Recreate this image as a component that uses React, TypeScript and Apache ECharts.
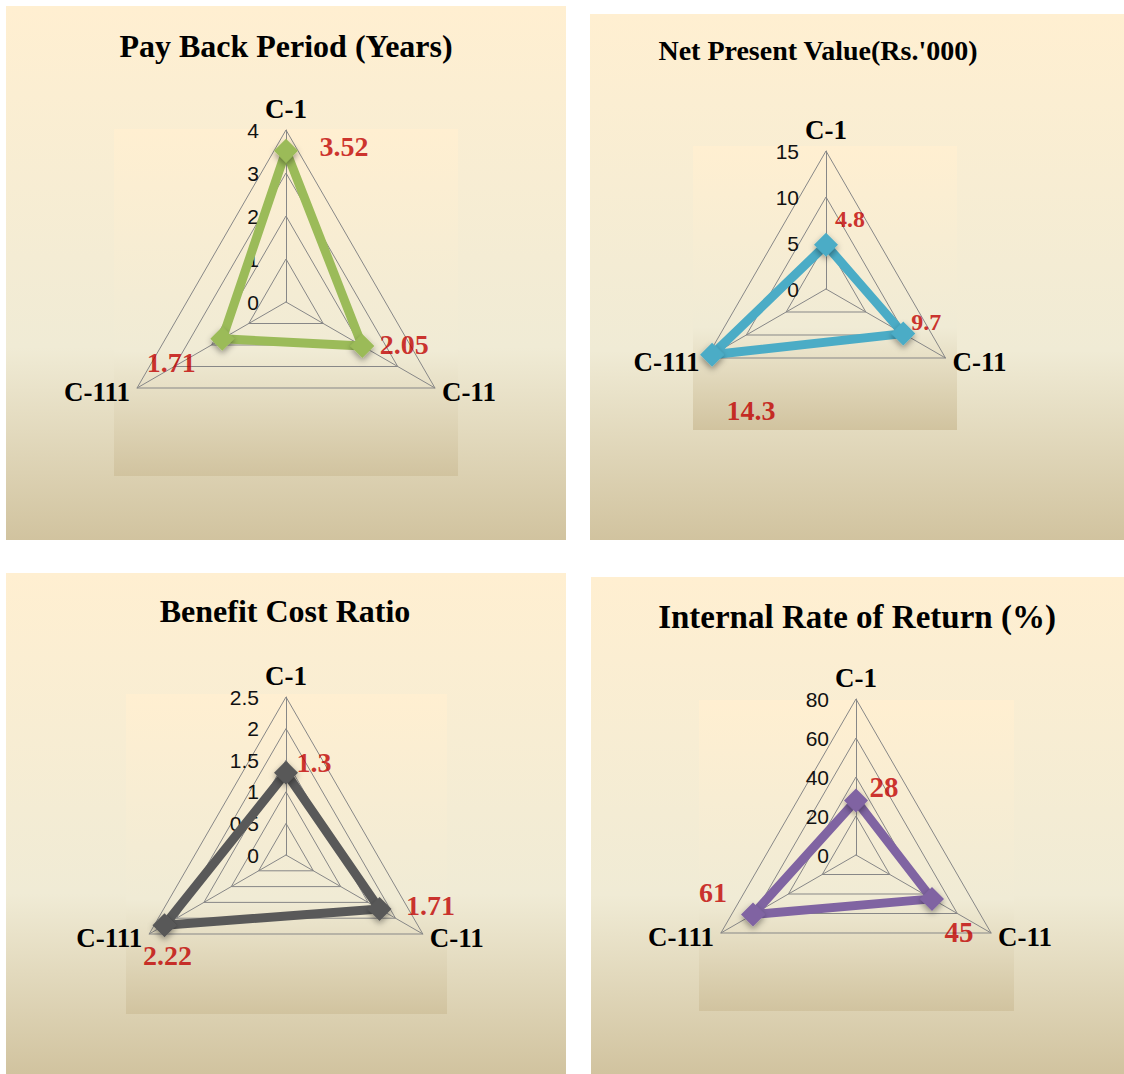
import React, { useEffect, useRef } from "react";
import * as echarts from "echarts";

// Spoke names in clockwise order starting from the top
const axisNames = ["C-1", "C-11", "C-111"];

// Values per spoke (C-1, C-11, C-111)
const paybackYears = [3.52, 2.05, 1.71];
const npvThousands = [4.8, 9.7, 14.3];
const benefitCostRatio = [1.3, 1.71, 2.22];
const irrPercent = [28, 45, 61];

const chartTitles = [
  "Pay Back Period (Years)",
  "Net Present Value(Rs.'000)",
  "Benefit Cost Ratio",
  "Internal Rate of Return (%)",
];
const axisMax = [4, 15, 2.5, 80];
const ringCounts = [4, 3, 5, 4];
const seriesValues = [paybackYears, npvThousands, benefitCostRatio, irrPercent];

type Panel = {
  outer: [number, number, number, number];
  inner: [number, number, number, number];
  title: [number, number, number];
  center: [number, number];
  radius: number;
  color: string;
  labelOffsets: [number, number][];
  labelSizes: number[];
};

// Layout of the four chart panels
const panels: Panel[] = [
  {
    outer: [6, 6, 560, 534],
    inner: [114, 129, 344, 347],
    title: [286, 46, 32],
    center: [286, 302],
    radius: 172,
    color: "#9bbb59",
    labelOffsets: [[58, -4], [42, -2], [-51, 24]],
    labelSizes: [28, 28, 28],
  },
  {
    outer: [590, 14, 534, 526],
    inner: [693, 146, 264, 284],
    title: [818, 50, 28],
    center: [826, 289],
    radius: 138,
    color: "#4bacc6",
    labelOffsets: [[24, -26], [23, -12], [39, 56]],
    labelSizes: [24, 24, 28],
  },
  {
    outer: [6, 573, 560, 501],
    inner: [126, 694, 321, 320],
    title: [285, 611, 32],
    center: [286, 855],
    radius: 158,
    color: "#595959",
    labelOffsets: [[28, -10], [51, -4], [3, 30]],
    labelSizes: [28, 28, 28],
  },
  {
    outer: [591, 577, 533, 497],
    inner: [699, 700, 315, 311],
    title: [857, 617, 33],
    center: [856, 855],
    radius: 156,
    color: "#8064a2",
    labelOffsets: [[28, -13], [27, 33], [-40, -22]],
    labelSizes: [29, 29, 28],
  },
];

// Parchment-style vertical gradient used for panels and plot areas
const parchment = {
  type: "linear",
  x: 0,
  y: 0,
  x2: 0,
  y2: 1,
  colorStops: [
    { offset: 0, color: "#ffefd1" },
    { offset: 0.64, color: "#f0ebd5" },
    { offset: 1, color: "#d1c39f" },
  ],
};

const gridGray = "#878787";
const serif = '"Liberation Serif", "Times New Roman", serif';

// Value labels drawn along the C-1 spoke only
const tickLabelStyle = {
  show: true,
  showMinLabel: true,
  showMaxLabel: true,
  color: "#111",
  fontSize: 21,
  fontFamily: '"Liberation Sans", Arial, sans-serif',
  margin: 27,
  padding: [4, 0, 0, 0],
};

function buildOption(): echarts.EChartsOption {
  const graphic: any[] = [];
  panels.forEach((p, i) => {
    graphic.push({
      type: "rect",
      z: 0,
      shape: { x: p.outer[0], y: p.outer[1], width: p.outer[2], height: p.outer[3] },
      style: { fill: parchment },
      silent: true,
    });
    graphic.push({
      type: "rect",
      z: 0,
      shape: { x: p.inner[0], y: p.inner[1], width: p.inner[2], height: p.inner[3] },
      style: { fill: parchment },
      silent: true,
    });
    graphic.push({
      type: "text",
      z: 1,
      x: p.title[0],
      y: p.title[1],
      style: {
        text: chartTitles[i],
        fill: "#000",
        fontFamily: serif,
        fontWeight: "bold",
        fontSize: p.title[2],
        align: "center",
        verticalAlign: "middle",
      },
      silent: true,
    });
  });

  // ECharts places radar spokes counter-clockwise, so C-111 comes second
  const radarOrder = [0, 2, 1];

  const radar = panels.map((p, i) => ({
    center: p.center,
    radius: p.radius,
    startAngle: 90,
    shape: "polygon" as const,
    splitNumber: ringCounts[i],
    axisNameGap: 8,
    axisName: {
      color: "#000",
      fontFamily: serif,
      fontWeight: "bold",
      fontSize: 27,
    },
    indicator: radarOrder.map((k) => ({
      name: axisNames[k],
      min: 0,
      max: axisMax[i],
      axisLabel: k === 0 ? { ...tickLabelStyle } : { show: false },
    })),
    axisLine: { lineStyle: { color: gridGray, width: 1 } },
    splitLine: { lineStyle: { color: gridGray, width: 1 } },
    splitArea: { show: false },
    axisTick: { show: false },
    axisLabel: { ...tickLabelStyle, show: false },
  }));

  const polar = panels.map((p) => ({ center: p.center, radius: p.radius }));
  const angleAxis = panels.map((_, i) => ({
    polarIndex: i,
    type: "value" as const,
    min: 0,
    max: axisNames.length,
    startAngle: 90,
    clockwise: true,
    show: false,
  }));
  const radiusAxis = panels.map((_, i) => ({
    polarIndex: i,
    type: "value" as const,
    min: 0,
    max: axisMax[i],
    show: false,
  }));

  const series: any[] = [];
  panels.forEach((p, i) => {
    const vals = seriesValues[i];
    series.push({
      type: "radar",
      radarIndex: i,
      z: 3,
      symbol: "diamond",
      symbolSize: 24,
      lineStyle: { color: p.color, width: 9 },
      itemStyle: {
        color: p.color,
        shadowBlur: 6,
        shadowColor: "rgba(0,0,0,0.4)",
        shadowOffsetY: 3,
      },
      label: { show: false },
      silent: true,
      data: [{ value: radarOrder.map((k) => vals[k]), name: chartTitles[i] }],
    });
    series.push({
      type: "scatter",
      coordinateSystem: "polar",
      polarIndex: i,
      z: 4,
      symbolSize: 0,
      silent: true,
      itemStyle: { color: "transparent" },
      label: {
        show: true,
        position: "inside",
        color: "#c00000",
        fontFamily: serif,
        fontWeight: "bold",
        formatter: (prm: any) => String(prm.value[0]),
      },
      data: vals.map((v, k) => ({
        value: [v, k],
        label: { offset: p.labelOffsets[k], fontSize: p.labelSizes[k] },
      })),
    });
  });

  return {
    animation: false,
    backgroundColor: "#ffffff",
    graphic,
    radar,
    polar,
    angleAxis,
    radiusAxis,
    series,
  } as any;
}

export default function App() {
  const ref = useRef<HTMLDivElement>(null);
  useEffect(() => {
    if (!ref.current) return;
    const chart = echarts.init(ref.current, null, { renderer: "svg" });
    chart.setOption(buildOption());
    return () => chart.dispose();
  }, []);
  return (
    <div
      ref={ref}
      style={{ position: "absolute", left: 0, top: 0, width: 1124, height: 1074 }}
    />
  );
}
